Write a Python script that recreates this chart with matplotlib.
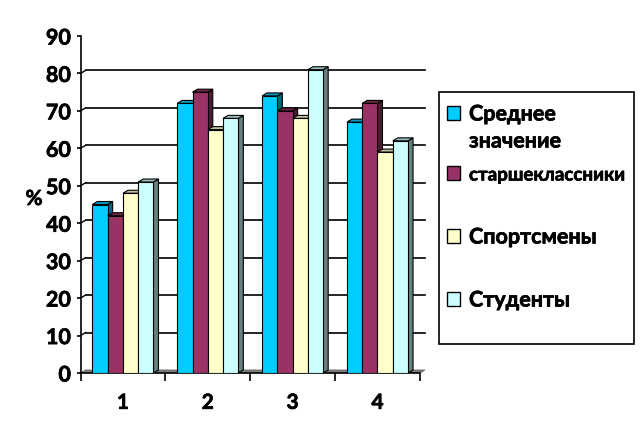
import numpy as np
import matplotlib.pyplot as plt
import matplotlib.patheffects as pe
from matplotlib.patches import Polygon, Rectangle

categories = ["1", "2", "3", "4"]
series_names = ["Среднее\nзначение", "старшеклассники", "Спортсмены", "Студенты"]
srednee = [45, 72, 74, 67]
starsheklassniki = [42, 75, 70, 72]
sportsmeny = [48, 65, 68, 59]
studenty = [51, 68, 81, 62]
values = [srednee, starsheklassniki, sportsmeny, studenty]

front = ["#00CCFF", "#993366", "#FFFFCC", "#CCFFFF"]
top = ["#0099BF", "#732649", "#BFBF99", "#99BFBF"]
side = ["#006680", "#4D1A33", "#80806A", "#668080"]

plt.rcParams['font.family'] = ['Lato', 'DejaVu Sans']
WT = "bold"
thick = [pe.withStroke(linewidth=0.5, foreground="black")]

fig = plt.figure(figsize=(6.44, 4.39), dpi=100)
ax = fig.add_axes([80.5 / 644, 1 - 374 / 439, (425 - 80.5) / 644, 337 / 439])
ax.set_xlim(0, 4.06)
ax.set_ylim(0, 90)

w = 0.18
dx = 0.059
dy = 0.8

# back wall gridlines and left ticks
for y in range(10, 90, 10):
    ax.plot([dx, 4.06], [y + dy, y + dy], color="black", lw=1.2, zorder=1, clip_on=False)
    ax.plot([0, dx], [y, y + dy], color="black", lw=1.0, zorder=1, clip_on=False)

# floor
ax.add_patch(Polygon([(0, 0), (4, 0), (4 + dx, dy), (dx, dy)], closed=True,
                     facecolor="#808080", edgecolor="#606060", lw=0.6, zorder=2))

z = 3
for i in range(len(categories)):
    for j in range(len(values)):
        h = values[j][i]
        x0 = i + 0.5 - 2 * w + j * w
        ax.add_patch(Polygon([(x0 + w, 0), (x0 + w + dx, dy), (x0 + w + dx, h + dy), (x0 + w, h)],
                             closed=True, facecolor=side[j], edgecolor="black", lw=0.8, zorder=z))
        ax.add_patch(Polygon([(x0, h), (x0 + dx, h + dy), (x0 + w + dx, h + dy), (x0 + w, h)],
                             closed=True, facecolor=top[j], edgecolor="black", lw=0.8, zorder=z))
        ax.add_patch(Rectangle((x0, 0), w, h, facecolor=front[j], edgecolor="black", lw=0.8, zorder=z + 1))
        z += 2

ax.spines["top"].set_visible(False)
ax.spines["right"].set_visible(False)
ax.spines["bottom"].set_bounds(0, 4)
ax.spines["left"].set_linewidth(1.2)
ax.spines["bottom"].set_linewidth(1.2)

ax.set_yticks(range(0, 91, 10))
ax.set_yticklabels([str(v) for v in range(0, 91, 10)], fontsize=15.5, fontweight=WT)
for t in ax.get_yticklabels():
    t.set_path_effects(thick)
ax.tick_params(axis="y", length=3, width=1.2, pad=4)

ax.set_xticks([0, 1, 2, 3, 4])
ax.set_xticklabels([])
ax.tick_params(axis="x", length=6, width=1.2, direction="out")
for i, c in enumerate(categories):
    ax.text(i + 0.5, -5.3, c, ha="center", va="top", fontsize=15, fontweight=WT, path_effects=thick)

fig.text(34 / 644, 1 - 200 / 439, "%", ha="center", va="center", fontsize=15, fontweight=WT, path_effects=thick)

# legend
fig.patches.append(Rectangle((439 / 644, 1 - 345 / 439), (634 - 439) / 644, (345 - 93) / 439,
                             transform=fig.transFigure, facecolor="white", edgecolor="black", lw=1.2))
sq_y = [114, 174, 237, 300]
for j in range(len(series_names)):
    fig.patches.append(Rectangle((447 / 644, 1 - (sq_y[j] + 7) / 439), 13 / 644, 14 / 439,
                                 transform=fig.transFigure, facecolor=front[j], edgecolor="black", lw=1.0))
legend_lines = [("Среднее", 115, 15.5), ("значение", 142, 15.5), (series_names[1], 176, 13.5),
                (series_names[2], 238, 15.5), (series_names[3], 301, 15.5)]
for s, yp, fs in legend_lines:
    fig.text(469 / 644, 1 - yp / 439, s, ha="left", va="center", fontsize=fs, fontweight=WT, path_effects=thick)

fig.savefig("out.png", dpi=100)
